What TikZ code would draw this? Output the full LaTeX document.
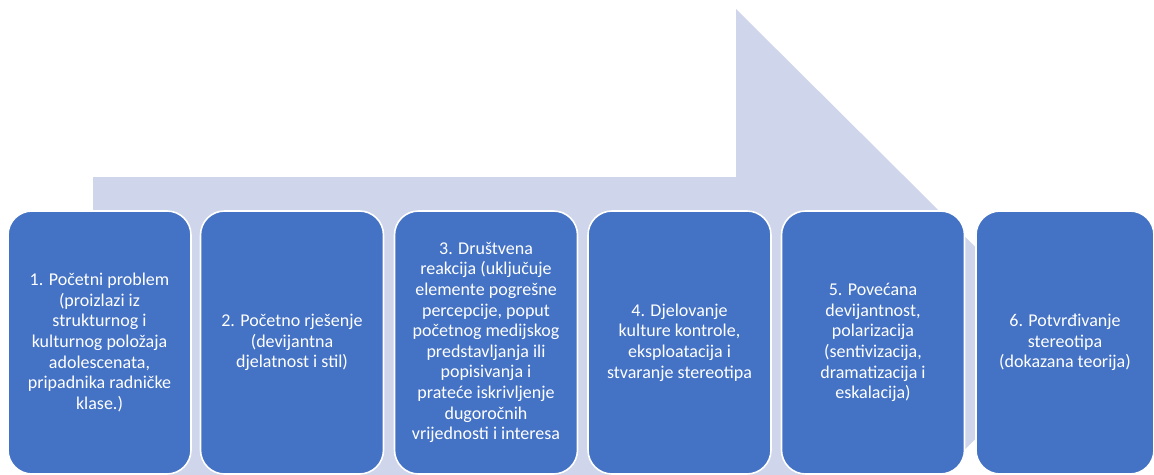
\documentclass[tikz,border=0pt]{standalone}
\usepackage{fontspec}
\setmainfont{Carlito}
\definecolor{arrowfill}{HTML}{CFD5EA}
\definecolor{boxblue}{HTML}{4472C4}
\tikzset{
  stepbox/.style={draw=white, line width=1.6pt, fill=boxblue, rounded corners=24pt,
    minimum width=183pt, minimum height=263pt, inner sep=0pt,
    text=white, align=center, font=\fontsize{18}{20.6}\selectfont},
}
\begin{document}
\begin{tikzpicture}[x=1pt,y=-1pt]
\useasboundingbox (0,0) rectangle (1154,474);
\begin{scope}
\clip (0,0) rectangle (1154,474);
\fill[arrowfill] (93,177) -- (736,177) -- (736,9) -- (1072,343) -- (736,677) -- (736,509) -- (93,509) -- cycle;
\node[stepbox] (s1) at (99.5,342.5) {1. Početni problem\\(proizlazi iz\\strukturnog i\\kulturnog položaja\\adolescenata,\\pripadnika radničke\\klase.)};
\node[stepbox] (s2) at (292,342.5) {2. Početno rješenje\\(devijantna\\djelatnost i stil)};
\node[stepbox] (s3) at (486,342.5) {3. Društvena\\reakcija (uključuje\\elemente pogrešne\\percepcije, poput\\početnog medijskog\\predstavljanja ili\\popisivanja i\\prateće iskrivljenje\\dugoročnih\\vrijednosti i interesa};
\node[stepbox] (s4) at (679.5,342.5) {4. Djelovanje\\kulture kontrole,\\eksploatacija i\\stvaranje stereotipa};
\node[stepbox] (s5) at (873,342.5) {5. Povećana\\devijantnost,\\polarizacija\\(sentivizacija,\\dramatizacija i\\eskalacija)};
\node[stepbox, minimum width=178pt] (s6) at (1065,342.5) {6. Potvrđivanje\\stereotipa\\(dokazana teorija)};
\end{scope}
\end{tikzpicture}
\end{document}
